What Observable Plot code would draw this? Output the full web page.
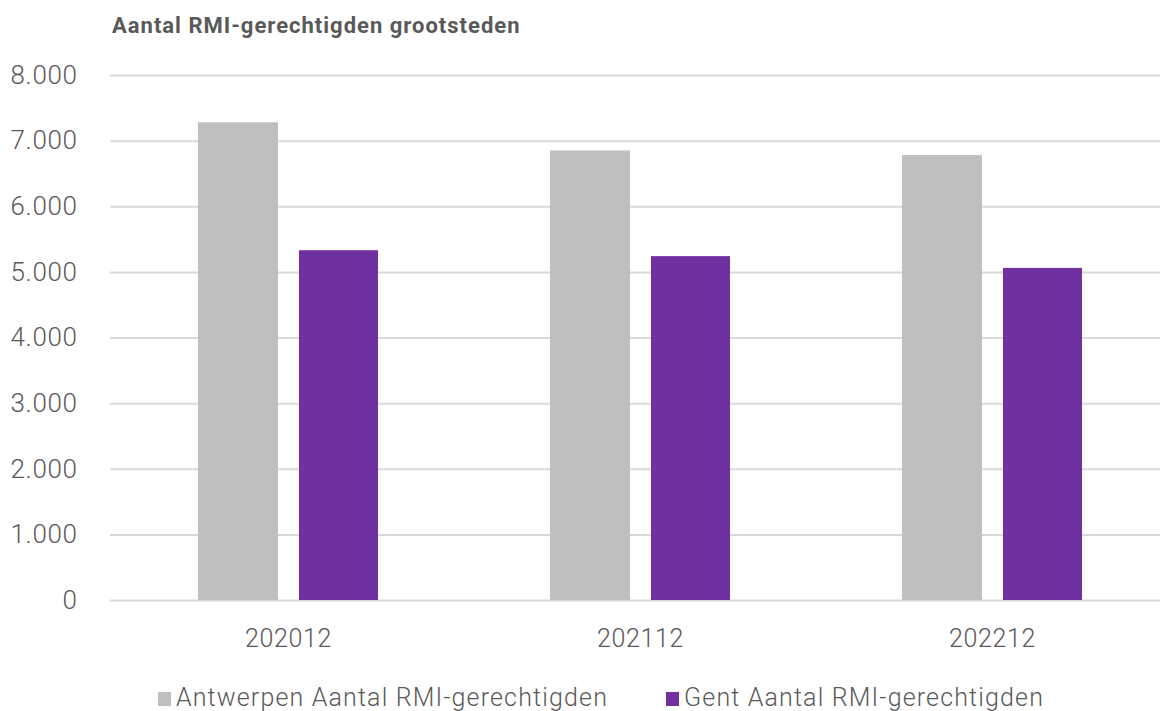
<!DOCTYPE html>
<html>
<head>
<meta charset="utf-8">
<script src="https://cdn.jsdelivr.net/npm/d3@7"></script>
<script src="https://cdn.jsdelivr.net/npm/@observablehq/plot@0.6"></script>
<style>
  html, body { margin: 0; padding: 0; background: #fff; }
  body { width: 1160px; height: 711px; overflow: hidden; font-family: Roboto, "Noto Sans", sans-serif; }
  #title { height: 55px; box-sizing: border-box; padding: 13px 0 0 112px; font-size: 22px; font-weight: 700; color: #595959; letter-spacing: 1px; }
  #legend { display: flex; justify-content: center; gap: 58px; margin-top: 23px; padding-left: 42px; font-size: 25px; font-weight: 300; color: #595959; letter-spacing: 1.15px; }
  .item { display: flex; align-items: center; }
  .sw { width: 13px; height: 14px; margin-right: 5px; margin-top: 3px; }
</style>
</head>
<body>
<div id="title">Aantal RMI-gerechtigden grootsteden</div>
<div id="chart"></div>
<div id="legend"></div>
<script>
const years = ["202012", "202112", "202212"];
const series = ["Antwerpen Aantal RMI-gerechtigden", "Gent Aantal RMI-gerechtigden"];
const colors = ["#BFBFBF", "#7030A0"];
const antwerpen = [7280, 6850, 6780];
const gent = [5330, 5240, 5060];
const yTicks = [0, 1000, 2000, 3000, 4000, 5000, 6000, 7000, 8000];

const dataA = years.map((y, i) => ({year: y, value: antwerpen[i]}));
const dataG = years.map((y, i) => ({year: y, value: gent[i]}));
const fmt = d => d3.format(",")(d).replace(/,/g, ".");

const chart = Plot.plot({
  width: 1160,
  height: 605,
  marginLeft: 110,
  marginRight: 0,
  marginTop: 20,
  marginBottom: 60,
  style: {fontFamily: "Roboto, 'Noto Sans', sans-serif", color: "#595959", background: "#fff"},
  x: {domain: years, paddingInner: 0.4897, paddingOuter: 0.233, align: 0.5286},
  y: {domain: [0, 8000]},
  marks: [
    Plot.ruleY(yTicks, {stroke: "#D9D9D9", strokeWidth: 2}),
    Plot.barY(dataA, {x: "year", y: "value", fill: colors[0], insetRight: 100}),
    Plot.barY(dataG, {x: "year", y: "value", fill: colors[1], insetLeft: 101}),
    Plot.axisY(yTicks, {tickSize: 0, tickPadding: 33, tickFormat: fmt, label: null, fontSize: 26, fontWeight: 300, fill: "#595959"}),
    Plot.axisX({tickSize: 0, tickPadding: 29, label: null, fontSize: 25, fontWeight: 300, fill: "#595959"})
  ]
});
chart.querySelectorAll("text").forEach(t => { t.style.letterSpacing = "0.6px"; });
document.getElementById("chart").appendChild(chart);

const legend = document.getElementById("legend");
series.forEach((s, i) => {
  const item = document.createElement("div");
  item.className = "item";
  const sw = document.createElement("span");
  sw.className = "sw";
  sw.style.background = colors[i];
  const label = document.createElement("span");
  label.textContent = s;
  item.appendChild(sw);
  item.appendChild(label);
  legend.appendChild(item);
});
</script>
</body>
</html>
